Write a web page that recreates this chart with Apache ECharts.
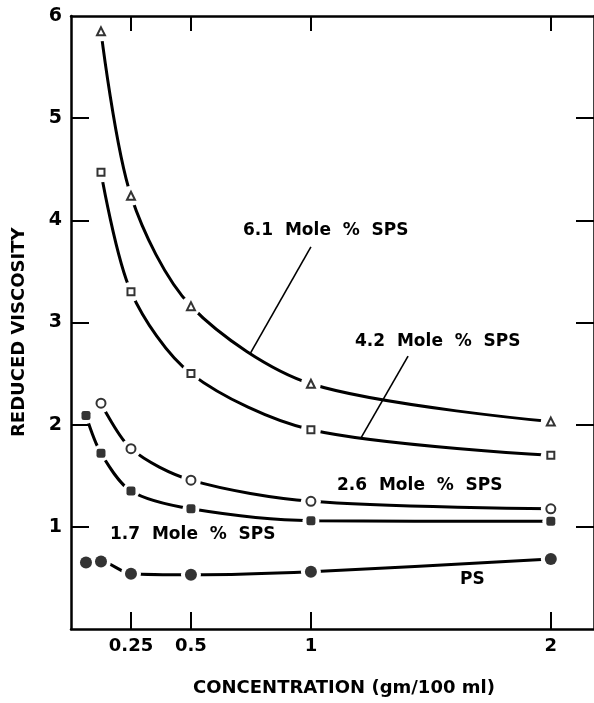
<!DOCTYPE html>
<html>
<head>
<meta charset="utf-8">
<script src="https://cdn.jsdelivr.net/npm/echarts@6/dist/echarts.min.js"></script>
<style>
  html, body { margin: 0; padding: 0; background: #fff; }
  #chart { width: 594px; height: 703px; }
</style>
</head>
<body>
<div id="chart"></div>
<script>
// Concentration (gm/100 ml) for each sample set
const concSPS = [0.125, 0.25, 0.5, 1, 2];
const concLow = [0.0625, 0.125, 0.25, 0.5, 1, 2];

// Reduced viscosity values
const visc61 = [5.85, 4.24, 3.16, 2.40, 2.03];
const visc42 = [4.47, 3.30, 2.50, 1.95, 1.70];
const visc26 = [2.21, 1.765, 1.457, 1.25, 1.176];
const visc17 = [2.09, 1.72, 1.35, 1.176, 1.06, 1.054];
const viscPS = [0.65, 0.66, 0.54, 0.53, 0.56, 0.685];

// Axis ticks
const xTicks = [0.25, 0.5, 1, 2];
const yTicks = [1, 2, 3, 4, 5];
const yLabels = [1, 2, 3, 4, 5, 6];

// Leader lines from the curve labels to their curves
const leader61 = [[1.0, 3.74], [0.748, 2.70]];
const leader42 = [[1.405, 2.67], [1.21, 1.876]];

const pair = (xs, ys) => xs.map((x, i) => [x, ys[i]]);

const FONT = '"DejaVu Sans", "Liberation Sans", sans-serif';
const INK = '#000';

// Curve with white halos at the points, so the line breaks around each marker
function curve(name, data, halo) {
  return {
    name, type: 'line', data,
    smooth: 0.3,
    symbol: 'circle', symbolSize: halo,
    itemStyle: { color: '#fff', borderWidth: 0 },
    lineStyle: { color: INK, width: 3 },
    silent: true, z: 2
  };
}
function marks(name, data, symbol, size, filled) {
  return {
    name: name + ' pts', type: 'scatter', data,
    symbol, symbolSize: size,
    itemStyle: filled
      ? { color: INK, borderColor: INK, borderWidth: 0 }
      : { color: '#fff', borderColor: INK, borderWidth: 2 },
    silent: true, z: 4
  };
}
function leader(data) {
  return {
    type: 'line', data, symbol: 'none',
    lineStyle: { color: INK, width: 1.6 },
    silent: true, z: 3
  };
}

const chart = echarts.init(document.getElementById('chart'), null, { renderer: 'canvas' });

const axisBase = {
  type: 'value',
  axisLine: { show: true, onZero: false, lineStyle: { color: INK, width: 2.5 } },
  splitLine: { show: false }
};

chart.setOption({
  backgroundColor: '#fff',
  animation: false,
  grid: { left: 71, top: 16, width: 527, height: 613, containLabel: false },
  xAxis: [
    Object.assign({}, axisBase, {
      min: 0, max: 2.18, position: 'bottom',
      axisTick: { show: true, inside: true, length: 17, customValues: xTicks,
                  lineStyle: { color: INK, width: 2 } },
      axisLabel: { customValues: xTicks, color: INK, fontFamily: FONT, fontWeight: 'bold',
                   fontSize: 18, margin: 8 }
    }),
    Object.assign({}, axisBase, {
      min: 0, max: 2.18, position: 'top',
      axisTick: { show: true, inside: true, length: 15, customValues: xTicks,
                  lineStyle: { color: INK, width: 2 } },
      axisLabel: { show: false }
    })
  ],
  yAxis: [
    Object.assign({}, axisBase, {
      min: 0, max: 6, position: 'left',
      axisTick: { show: true, inside: true, length: 18, customValues: yTicks,
                  lineStyle: { color: INK, width: 2 } },
      axisLabel: { customValues: yLabels, color: INK, fontFamily: FONT, fontWeight: 'bold',
                   fontSize: 19, margin: 9 }
    }),
    Object.assign({}, axisBase, {
      min: 0, max: 6, position: 'right',
      axisTick: { show: true, inside: true, length: 18, customValues: yTicks,
                  lineStyle: { color: INK, width: 2 } },
      axisLabel: { show: false }
    })
  ],
  series: [
    curve('6.1 Mole % SPS', pair(concSPS, visc61), 20),
    curve('4.2 Mole % SPS', pair(concSPS, visc42), 20),
    curve('2.6 Mole % SPS', pair(concSPS, visc26), 20),
    curve('1.7 Mole % SPS', pair(concLow, visc17), 17),
    curve('PS', pair(concLow, viscPS), 20),
    leader(leader61),
    leader(leader42),
    marks('6.1 Mole % SPS', pair(concSPS, visc61), 'triangle', 8, false),
    marks('4.2 Mole % SPS', pair(concSPS, visc42), 'rect', 7, false),
    marks('2.6 Mole % SPS', pair(concSPS, visc26), 'circle', 9, false),
    marks('1.7 Mole % SPS', pair(concLow, visc17), 'roundRect', 9, true),
    marks('PS', pair(concLow, viscPS), 'circle', 12, true)
  ],
  graphic: [
    { type: 'text', left: 243, top: 222, style: { text: '6.1  Mole  %  SPS', font: 'bold 17px ' + FONT, fill: INK } },
    { type: 'text', left: 355, top: 333, style: { text: '4.2  Mole  %  SPS', font: 'bold 17px ' + FONT, fill: INK } },
    { type: 'text', left: 337, top: 477, style: { text: '2.6  Mole  %  SPS', font: 'bold 17px ' + FONT, fill: INK } },
    { type: 'text', left: 110, top: 526, style: { text: '1.7  Mole  %  SPS', font: 'bold 17px ' + FONT, fill: INK } },
    { type: 'text', left: 460, top: 571, style: { text: 'PS', font: 'bold 17px ' + FONT, fill: INK } },
    { type: 'text', left: 193, top: 679, style: { text: 'CONCENTRATION (gm/100 ml)', font: 'bold 18px ' + FONT, fill: INK } },
    { type: 'text', x: 10, y: 437, rotation: Math.PI / 2,
      style: { text: 'REDUCED VISCOSITY', font: 'bold 18px ' + FONT, fill: INK } }
  ]
});
</script>
</body>
</html>
